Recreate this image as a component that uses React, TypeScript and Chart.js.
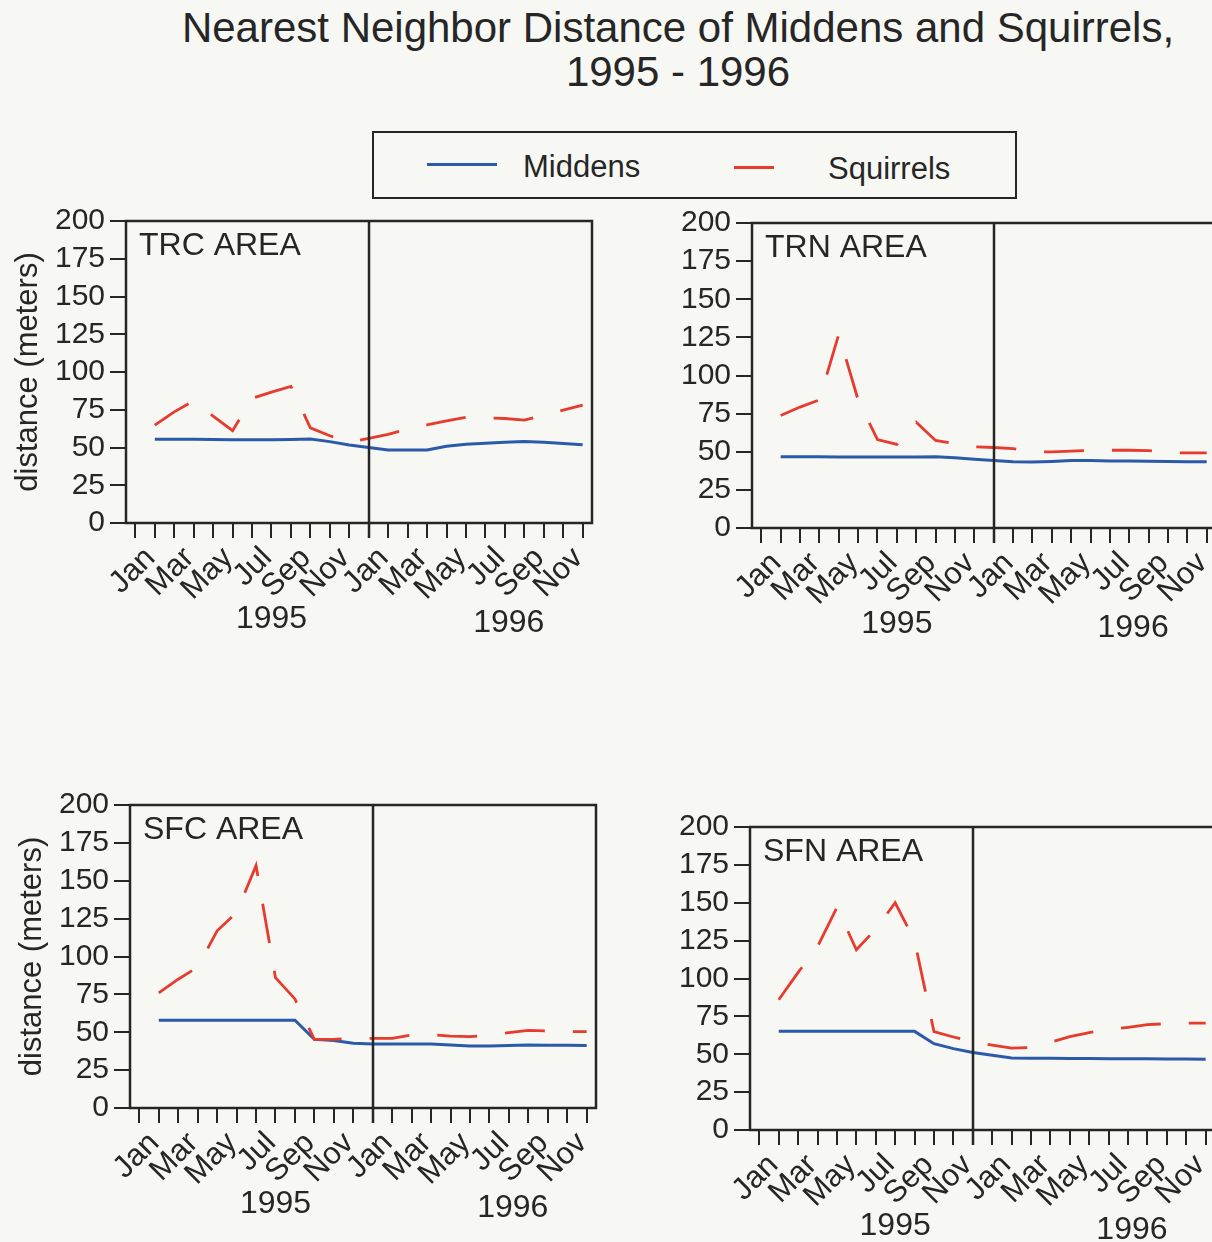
import React, { useEffect, useRef } from 'react';
import { Chart, registerables } from 'chart.js';

Chart.register(...registerables);

// ---------- data ----------
const monthLabels = ['Jan', '', 'Mar', '', 'May', '', 'Jul', '', 'Sep', '', 'Nov', '', 'Jan', '', 'Mar', '', 'May', '', 'Jul', '', 'Sep', '', 'Nov', ''];
const yTickValues = [0, 25, 50, 75, 100, 125, 150, 175, 200];
const yearLabels = ['1995', '1996'];
const yearTickPos = [7, 19.2];
const seriesNames = ['Middens', 'Squirrels'];

const trcMiddens = [null, 55.4, 55.4, 55.4, 55.3, 55.2, 55.2, 55.2, 55.3, 55.6, 53.9, 51.7, 50.0, 48.4, 48.4, 48.4, 50.8, 52.1, 52.8, 53.5, 53.9, 53.5, 52.6, 51.9];
const trcSquirrels = [null, 64.8, 73.6, 81, 70.8, 61.1, 82.5, 86.7, 90.5, 63, 57.8, 53.4, 56, 58.7, 62.2, 65, 67.7, 70, 69.7, 69.2, 68.1, 71.4, 74.7, 78];

const trnMiddens = [null, 46.7, 46.7, 46.7, 46.6, 46.6, 46.5, 46.5, 46.6, 46.8, 46.0, 45.1, 44.2, 43.4, 43.2, 43.6, 44.2, 44.2, 44.0, 44.0, 43.8, 43.6, 43.5, 43.4];
const trnSquirrels = [null, 73.8, 79.3, 84, 127, 84, 58, 54.8, 69.4, 57.4, 55.2, 53.2, 52.8, 52.1, 50.0, 49.9, 50.4, 51, 51, 51, 50.8, 49.3, 49.3, 49.3];

const sfcMiddens = [null, 58, 58, 58, 58, 58, 58, 58, 58, 45.3, 44.5, 42.7, 42.3, 42.3, 42.3, 42.3, 41.6, 40.9, 40.9, 41.2, 41.6, 41.4, 41.4, 41.2];
const sfcSquirrels = [null, 76, 85, 93, 117, 129, 160, 86, 72, 45.3, 45.3, 46, 46, 46, 48.2, 48.4, 47.5, 47.1, 48.2, 49.7, 51.3, 50.8, 50.4, 50.4];

const sfnMiddens = [null, 65.1, 65.1, 65.1, 65.1, 65.1, 65.1, 65.1, 65.1, 57, 53.7, 51.1, 49.3, 47.6, 47.4, 47.3, 47.2, 47.2, 47.1, 47.0, 47.0, 46.9, 46.8, 46.7];
const sfnSquirrels = [null, 86, 104, 121, 147, 119, 132.5, 150, 125, 65, 61.4, 58.1, 56.1, 54, 54.4, 57.9, 61.6, 64.3, 66.2, 67.8, 69.5, 70.2, 70.6, 70.6];

// ---------- style ----------
const FONT = '"Liberation Sans", Arial, Helvetica, sans-serif';
const TEXT = '#262626';
const BLUE = '#2b5aa9';
const RED = '#e63b2d';
const BG = '#f7f7f3';

const PAD_L = 125;
const PAD_T = 40;
const PAD_R = 25;
const PAD_B = 140;

type Box = { left: number; top: number; right: number; bottom: number };

type PanelProps = {
  name: string;
  middens: (number | null)[];
  squirrels: (number | null)[];
  box: Box;
  divider: number;
  showYTitle: boolean;
  labelOffset: number;
};

function toPoints(arr: (number | null)[]) {
  const pts: { x: number; y: number }[] = [];
  arr.forEach((v, i) => {
    if (v !== null) pts.push({ x: i, y: v });
  });
  return pts;
}

function Panel({ name, middens, squirrels, box, divider, showYTitle, labelOffset }: PanelProps) {
  const ref = useRef<HTMLCanvasElement | null>(null);
  const w = PAD_L + (box.right - box.left) + PAD_R;
  const h = PAD_T + (box.bottom - box.top) + PAD_B;

  useEffect(() => {
    if (!ref.current) return;
    const decor = {
      id: 'decor',
      afterDatasetsDraw(chart: any) {
        const { ctx, chartArea } = chart;
        const xs = chart.scales.x;
        ctx.save();
        ctx.strokeStyle = TEXT;
        ctx.lineWidth = 2.5;
        ctx.strokeRect(chartArea.left, chartArea.top, chartArea.right - chartArea.left, chartArea.bottom - chartArea.top);
        const dx = Math.round(xs.getPixelForValue(divider));
        ctx.beginPath();
        ctx.moveTo(dx, chartArea.top);
        ctx.lineTo(dx, chartArea.bottom + 15);
        ctx.stroke();
        ctx.fillStyle = TEXT;
        ctx.font = `32px ${FONT}`;
        ctx.textAlign = 'left';
        ctx.textBaseline = 'alphabetic';
        ctx.fillText(name, chartArea.left + 13, chartArea.top + 34);
        ctx.font = `32px ${FONT}`;
        ctx.textAlign = 'center';
        ctx.textBaseline = 'middle';
        yearLabels.forEach((lab, i) => {
          ctx.fillText(lab, xs.getPixelForValue(yearTickPos[i]), chartArea.bottom + 96 + i * 4);
        });
        ctx.restore();
      },
    };

    const chart = new Chart(ref.current, {
      type: 'line',
      data: {
        datasets: [
          {
            label: seriesNames[0],
            data: toPoints(middens),
            borderColor: BLUE,
            borderWidth: 3,
            pointRadius: 0,
            tension: 0,
            fill: false,
            order: 1,
          },
          {
            label: seriesNames[1],
            data: toPoints(squirrels),
            borderColor: RED,
            borderWidth: 2.8,
            borderDash: [40, 28],
            pointRadius: 0,
            tension: 0,
            fill: false,
            order: 0,
          },
        ],
      },
      options: {
        animation: false,
        responsive: false,
        maintainAspectRatio: false,
        devicePixelRatio: 1,
        layout: { padding: { top: PAD_T, right: PAD_R, left: 0, bottom: 0 } },
        plugins: {
          legend: { display: false },
          tooltip: { enabled: false },
          title: { display: false },
        },
        scales: {
          x: {
            type: 'linear',
            min: -0.48,
            max: 23.48,
            afterBuildTicks: (s: any) => {
              s.ticks = monthLabels.map((_, i) => ({ value: i }));
            },
            afterFit: (s: any) => {
              s.height = PAD_B;
            },
            grid: { drawOnChartArea: false, drawTicks: true, tickLength: 15, color: TEXT, lineWidth: 2 },
            border: { display: false },
            ticks: {
              autoSkip: false,
              minRotation: 45,
              maxRotation: 45,
              labelOffset,
              padding: 2,
              color: TEXT,
              font: { family: FONT, size: 31 },
              callback: (v: any) => monthLabels[Math.round(Number(v))] ?? '',
            },
          },
          y: {
            type: 'linear',
            min: 0,
            max: 200,
            afterBuildTicks: (s: any) => {
              s.ticks = yTickValues.map((v) => ({ value: v }));
            },
            afterFit: (s: any) => {
              s.width = PAD_L;
            },
            grid: { drawOnChartArea: false, drawTicks: true, tickLength: 16, color: TEXT, lineWidth: 2 },
            border: { display: false },
            ticks: {
              autoSkip: false,
              padding: 5,
              color: TEXT,
              font: { family: FONT, size: 30, lineHeight: 1 },
              callback: (v: any) => String(v),
            },
            title: {
              display: showYTitle,
              text: 'distance (meters)',
              color: TEXT,
              font: { family: FONT, size: 31 },
              padding: { top: 9, bottom: 0 },
            },
          },
        },
      },
      plugins: [decor],
    } as any);
    return () => chart.destroy();
  }, []);

  return (
    <canvas
      ref={ref}
      width={w}
      height={h}
      style={{ position: 'absolute', left: box.left - PAD_L, top: box.top - PAD_T, width: w, height: h }}
    />
  );
}

export default function App() {
  return (
    <div
      style={{
        position: 'absolute',
        left: 0,
        top: 0,
        width: 1212,
        height: 1242,
        overflow: 'hidden',
        background: BG,
        fontFamily: FONT,
        color: TEXT,
      }}
    >
      <div style={{ position: 'absolute', left: 178, top: 6, width: 1000, textAlign: 'center', fontSize: 42, lineHeight: '44px', whiteSpace: 'nowrap' }}>
        <div>Nearest Neighbor Distance of Middens and Squirrels,</div>
        <div>1995 - 1996</div>
      </div>

      <div style={{ position: 'absolute', left: 372, top: 131, width: 645, height: 68, border: `2.5px solid ${TEXT}`, boxSizing: 'border-box' }} />
      <div style={{ position: 'absolute', left: 427, top: 163, width: 70, height: 3, background: BLUE }} />
      <div style={{ position: 'absolute', left: 523, top: 151, fontSize: 31, lineHeight: '31px', whiteSpace: 'nowrap' }}>{seriesNames[0]}</div>
      <div style={{ position: 'absolute', left: 734, top: 166, width: 40, height: 3, background: RED }} />
      <div style={{ position: 'absolute', left: 828, top: 153, fontSize: 31, lineHeight: '31px', whiteSpace: 'nowrap' }}>{seriesNames[1]}</div>

      <Panel name="TRC AREA" middens={trcMiddens} squirrels={trcSquirrels} box={{ left: 126, top: 221, right: 592, bottom: 523 }} divider={12} showYTitle={true} labelOffset={15} />
      <Panel name="TRN AREA" middens={trnMiddens} squirrels={trnSquirrels} box={{ left: 752, top: 223, right: 1216, bottom: 528 }} divider={12} showYTitle={false} labelOffset={15} />
      <Panel name="SFC AREA" middens={sfcMiddens} squirrels={sfcSquirrels} box={{ left: 130, top: 805, right: 596, bottom: 1108 }} divider={12} showYTitle={true} labelOffset={15} />
      <Panel name="SFN AREA" middens={sfnMiddens} squirrels={sfnSquirrels} box={{ left: 750, top: 827, right: 1215, bottom: 1130 }} divider={11} showYTitle={false} labelOffset={14} />
    </div>
  );
}
